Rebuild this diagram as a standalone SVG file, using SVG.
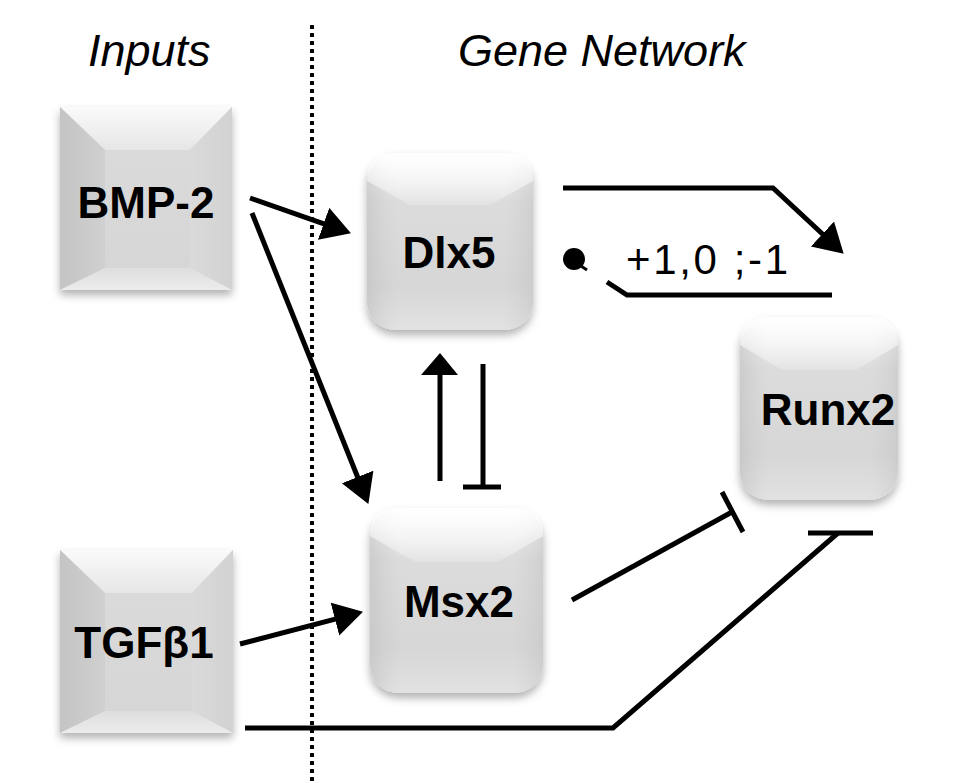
<svg xmlns="http://www.w3.org/2000/svg" width="980" height="783" viewBox="0 0 980 783">
  <style>
    .title { font-family: "Liberation Sans", Arial, sans-serif; font-style: italic; font-size: 45px; fill: #000; }
    .lbl { font-family: "Liberation Sans", Arial, sans-serif; font-weight: bold; font-size: 44px; fill: #000; text-anchor: middle; }
    .edge { fill: none; stroke: #000; stroke-width: 5; stroke-linejoin: miter; }
    .num { font-family: "Liberation Sans", Arial, sans-serif; font-size: 42px; fill: #000; }
  </style>
  <defs>
    <filter id="shadow" x="-20%" y="-20%" width="140%" height="150%">
      <feDropShadow dx="0" dy="5" stdDeviation="4" flood-color="#000" flood-opacity="0.3"/>
    </filter>
    <linearGradient id="gFace" x1="0" y1="0" x2="0" y2="1">
      <stop offset="0" stop-color="#f6f6f6"/>
      <stop offset="0.28" stop-color="#dcdcdc"/>
      <stop offset="0.75" stop-color="#d6d6d6"/>
      <stop offset="1" stop-color="#e2e2e2"/>
    </linearGradient>
    <linearGradient id="gSides" x1="0" y1="0" x2="1" y2="0">
      <stop offset="0" stop-color="#b8b8b8" stop-opacity="0.45"/>
      <stop offset="0.18" stop-color="#c8c8c8" stop-opacity="0"/>
      <stop offset="0.82" stop-color="#c8c8c8" stop-opacity="0"/>
      <stop offset="1" stop-color="#b8b8b8" stop-opacity="0.35"/>
    </linearGradient>
    <linearGradient id="gTop" x1="0" y1="0" x2="0" y2="1">
      <stop offset="0" stop-color="#ffffff" stop-opacity="0.95"/>
      <stop offset="1" stop-color="#ffffff" stop-opacity="0.2"/>
    </linearGradient>
    <linearGradient id="gBevTop" x1="0" y1="0" x2="0" y2="1">
      <stop offset="0" stop-color="#fafafa"/>
      <stop offset="1" stop-color="#e6e6e6"/>
    </linearGradient>
    <linearGradient id="gBevLeft" x1="0" y1="0" x2="1" y2="0">
      <stop offset="0" stop-color="#c4c4c4"/>
      <stop offset="1" stop-color="#d0d0d0"/>
    </linearGradient>
    <linearGradient id="gBevRight" x1="0" y1="0" x2="1" y2="0">
      <stop offset="0" stop-color="#dadada"/>
      <stop offset="1" stop-color="#d2d2d2"/>
    </linearGradient>
    <linearGradient id="gBevBot" x1="0" y1="0" x2="0" y2="1">
      <stop offset="0" stop-color="#dedede"/>
      <stop offset="1" stop-color="#ececec"/>
    </linearGradient>
    <linearGradient id="gInFace" x1="0" y1="0" x2="0" y2="1">
      <stop offset="0" stop-color="#dadada"/>
      <stop offset="1" stop-color="#d6d6d6"/>
    </linearGradient>
    <marker id="arrow" markerUnits="userSpaceOnUse" markerWidth="30" markerHeight="36" refX="14" refY="17" orient="auto">
      <path d="M0,0 L29,17 L0,34 Z" fill="#000"/>
    </marker>
  </defs>

  <rect width="980" height="783" fill="#fff"/>

  <g id="titles">
    <text class="title" x="88" y="66">Inputs</text>
    <text class="title" x="458" y="66">Gene Network</text>
  </g>

  <g id="divider">
    <line x1="312" y1="25" x2="312" y2="783" stroke="#000" stroke-width="4" stroke-dasharray="4 4"/>
  </g>

  <g id="bmp2">
    <g filter="url(#shadow)">
      <rect x="60" y="107" width="172" height="183" fill="url(#gInFace)"/>
    </g>
    <polygon points="60,107 232,107 190,150 105,150" fill="url(#gBevTop)"/>
    <polygon points="60,107 105,150 105,268 60,290" fill="url(#gBevLeft)"/>
    <polygon points="232,107 232,290 190,268 190,150" fill="url(#gBevRight)"/>
    <polygon points="60,290 105,268 190,268 232,290" fill="url(#gBevBot)"/>
    <rect x="105" y="150" width="85" height="118" fill="url(#gInFace)"/>
    <text class="lbl" x="146" y="218">BMP-2</text>
  </g>

  <g id="tgfb1">
    <g filter="url(#shadow)">
      <rect x="60" y="550" width="173" height="183" fill="url(#gInFace)"/>
    </g>
    <polygon points="60,550 233,550 192,593 105,593" fill="url(#gBevTop)"/>
    <polygon points="60,550 105,593 105,711 60,733" fill="url(#gBevLeft)"/>
    <polygon points="233,550 233,733 192,711 192,593" fill="url(#gBevRight)"/>
    <polygon points="60,733 105,711 192,711 233,733" fill="url(#gBevBot)"/>
    <rect x="105" y="593" width="87" height="118" fill="url(#gInFace)"/>
    <text class="lbl" x="144" y="658">TGFβ1</text>
  </g>

  <g id="dlx5">
    <rect x="367" y="153" width="166" height="177" rx="28" fill="url(#gFace)" filter="url(#shadow)"/>
    <rect x="367" y="153" width="166" height="177" rx="28" fill="url(#gSides)"/>
    <path d="M395,153 L505,153 Q533,153 533,181 L490,205 L410,205 L367,181 Q367,153 395,153 Z" fill="url(#gTop)"/>
    <text class="lbl" x="449" y="268">Dlx5</text>
  </g>

  <g id="msx2">
    <rect x="370" y="508" width="173" height="185" rx="28" fill="url(#gFace)" filter="url(#shadow)"/>
    <rect x="370" y="508" width="173" height="185" rx="28" fill="url(#gSides)"/>
    <path d="M398,508 L515,508 Q543,508 543,536 L498,562 L415,562 L370,536 Q370,508 398,508 Z" fill="url(#gTop)"/>
    <text class="lbl" x="459" y="617">Msx2</text>
  </g>

  <g id="runx2">
    <rect x="740" y="317" width="158" height="183" rx="28" fill="url(#gFace)" filter="url(#shadow)"/>
    <rect x="740" y="317" width="158" height="183" rx="28" fill="url(#gSides)"/>
    <path d="M768,317 L870,317 Q898,317 898,345 L856,370 L782,370 L740,345 Q740,317 768,317 Z" fill="url(#gTop)"/>
    <text class="lbl" x="828" y="425">Runx2</text>
  </g>

  <g id="connectors">
    <!-- BMP-2 -> Dlx5 -->
    <line class="edge" x1="250" y1="198" x2="336.8" y2="228.4" marker-end="url(#arrow)"/>
    <!-- BMP-2 -> Msx2 -->
    <line class="edge" x1="252" y1="213" x2="362.8" y2="490" marker-end="url(#arrow)"/>
    <!-- TGFb1 -> Msx2 -->
    <line class="edge" x1="240" y1="644" x2="348.5" y2="615.6" marker-end="url(#arrow)"/>
    <!-- Msx2 -> Dlx5 -->
    <line class="edge" x1="440" y1="481" x2="440" y2="372"/>
    <polygon points="421,375 440,353 458,375" fill="#000"/>
    <!-- Dlx5 -| Msx2 -->
    <line class="edge" x1="483" y1="364" x2="483" y2="487"/>
    <line class="edge" x1="463" y1="487" x2="501" y2="487"/>
    <!-- Dlx5 -> Runx2 -->
    <polyline class="edge" points="563,188 773,188 832.7,243.5" marker-end="url(#arrow)"/>
    <!-- Runx2 -> Dlx5 (feedback, +1,0,-1) -->
    <polyline class="edge" points="832,295 627,295 607,282"/>
    <circle cx="574" cy="259" r="11" fill="#000"/>
    <line x1="581" y1="266" x2="587" y2="270" stroke="#000" stroke-width="3"/>
    <text class="num" x="626" y="274" textLength="162" lengthAdjust="spacing">+1,0 ;-1</text>
    <!-- Msx2 -| Runx2 -->
    <line class="edge" x1="572" y1="600" x2="732" y2="512"/>
    <line class="edge" x1="722" y1="492" x2="743" y2="532"/>
    <!-- TGFb1 -| Runx2 -->
    <polyline class="edge" points="245,728 613,728 838,533"/>
    <line class="edge" x1="808" y1="533" x2="873" y2="533"/>
  </g>
</svg>
